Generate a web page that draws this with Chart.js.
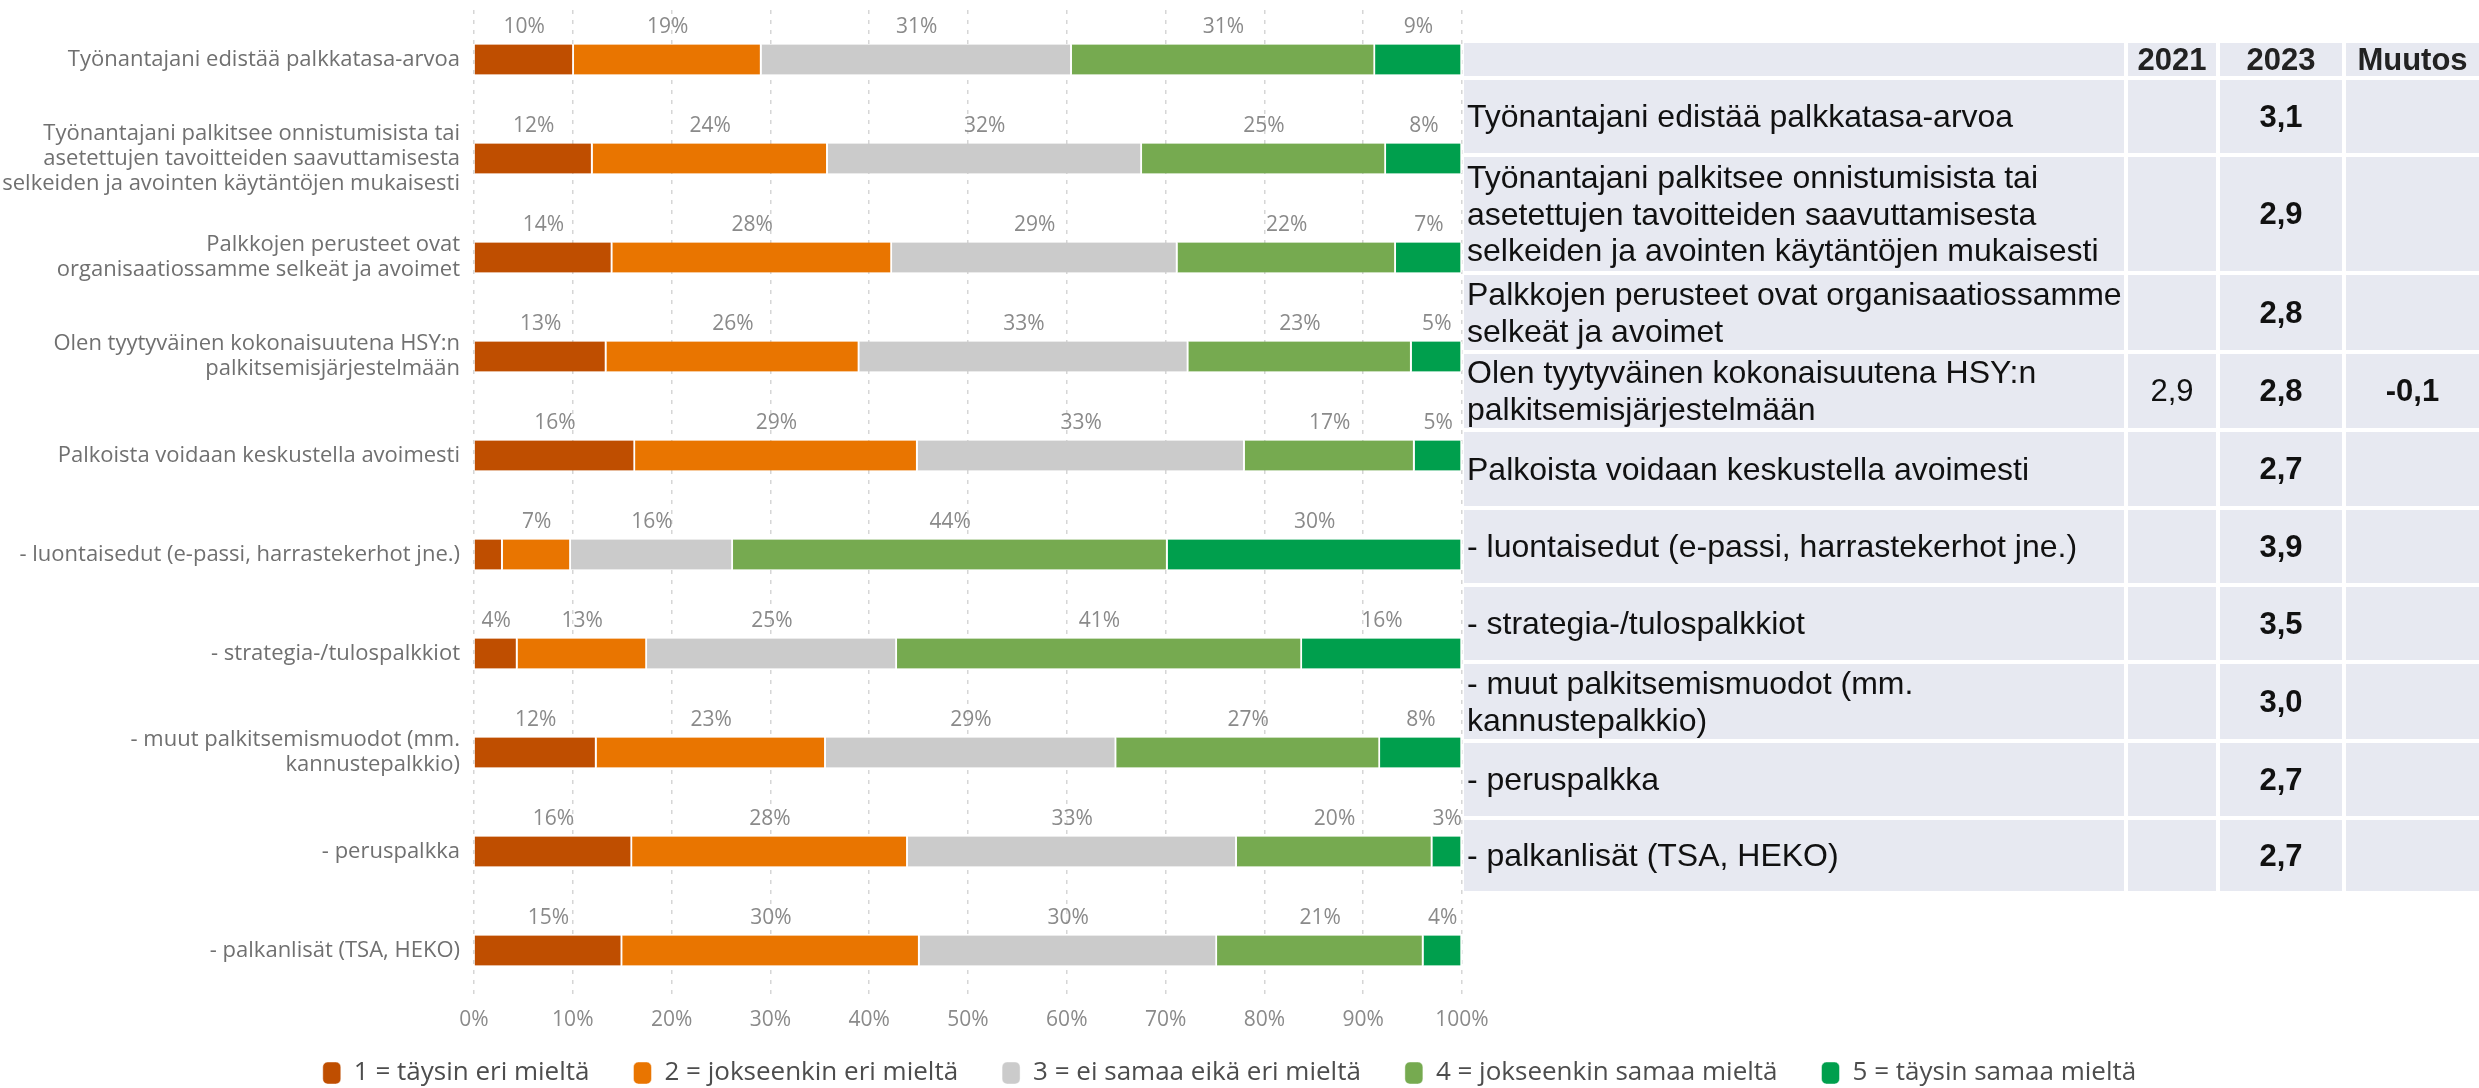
<!DOCTYPE html>
<html lang="fi">
<head>
<meta charset="utf-8">
<title>Palkitseminen</title>
<script src="https://cdn.jsdelivr.net/npm/chart.js@4.4.1/dist/chart.umd.min.js"></script>
<style>
  html, body { margin: 0; padding: 0; background: #fff; overflow: hidden; }
  #wrap { position: relative; width: 2479px; height: 1088px; }
  #tbl {
    position: absolute; left: 1464px; top: 43px;
    display: grid;
    grid-template-columns: 660px 88px 122px 133px;
    grid-template-rows: 33px 73px 114px 75px 74px 74px 73px 73px 75px 73px 71px;
    gap: 4px;
    font-family: "Liberation Sans", Arial, sans-serif;
    color: #111;
  }
  #tbl div {
    background: #e7e9f1;
    display: flex; align-items: center; justify-content: center;
    font-size: 31px; line-height: 1.15;
    white-space: nowrap;
  }
  #tbl div.lbl { justify-content: flex-start; padding-left: 3px; font-size: 32px; }
  #tbl div.hd { font-weight: bold; color: #222; }
  #tbl div.b { font-weight: bold; }
</style>
</head>
<body>
<div id="wrap">
  <canvas id="chart" width="2479" height="1088"></canvas>
  <div id="tbl"></div>
</div>
<script>
// kysymykset (y-akseli)
const categories = [
  "Työnantajani edistää palkkatasa-arvoa",
  ["Työnantajani palkitsee onnistumisista tai", "asetettujen tavoitteiden saavuttamisesta", "selkeiden ja avointen käytäntöjen mukaisesti"],
  ["Palkkojen perusteet ovat", "organisaatiossamme selkeät ja avoimet"],
  ["Olen tyytyväinen kokonaisuutena HSY:n", "palkitsemisjärjestelmään"],
  "Palkoista voidaan keskustella avoimesti",
  "- luontaisedut (e-passi, harrastekerhot jne.)",
  "- strategia-/tulospalkkiot",
  ["- muut palkitsemismuodot (mm.", "kannustepalkkio)"],
  "- peruspalkka",
  "- palkanlisät (TSA, HEKO)"
];

const seriesNames = [
  "1 = täysin eri mieltä",
  "2 = jokseenkin eri mieltä",
  "3 = ei samaa eikä eri mieltä",
  "4 = jokseenkin samaa mieltä",
  "5 = täysin samaa mieltä"
];

// osuudet %
const s1 = [10.1, 12.0, 14.0, 13.4, 16.3, 2.9, 4.4, 12.4, 16.0, 15.0];
const s2 = [19.0, 23.8, 28.3, 25.6, 28.6, 6.9, 13.1, 23.2, 27.9, 30.1];
const s3 = [31.4, 31.8, 28.9, 33.3, 33.1, 16.4, 25.3, 29.4, 33.3, 30.1];
const s4 = [30.7, 24.7, 22.1, 22.6, 17.2, 44.0, 41.0, 26.7, 19.8, 20.9];
const s5 = [8.8, 7.7, 6.7, 5.1, 4.8, 29.8, 16.2, 8.3, 3.0, 3.9];

const colors = ["#bf4e00", "#e97500", "#cbcbcb", "#76aa50", "#009f4d"];

const xTicks = [0, 10, 20, 30, 40, 50, 60, 70, 80, 90, 100];

// taulukko oikealla
const tableHeader = ["", "2021", "2023", "Muutos"];
const tableLabels = [
  "Työnantajani edistää palkkatasa-arvoa",
  "Työnantajani palkitsee onnistumisista tai<br>asetettujen tavoitteiden saavuttamisesta<br>selkeiden ja avointen käytäntöjen mukaisesti",
  "Palkkojen perusteet ovat organisaatiossamme<br>selkeät ja avoimet",
  "Olen tyytyväinen kokonaisuutena HSY:n<br>palkitsemisjärjestelmään",
  "Palkoista voidaan keskustella avoimesti",
  "- luontaisedut (e-passi, harrastekerhot jne.)",
  "- strategia-/tulospalkkiot",
  "- muut palkitsemismuodot (mm.<br>kannustepalkkio)",
  "- peruspalkka",
  "- palkanlisät (TSA, HEKO)"
];
const values2021 = ["", "", "", "2,9", "", "", "", "", "", ""];
const values2023 = ["3,1", "2,9", "2,8", "2,8", "2,7", "3,9", "3,5", "3,0", "2,7", "2,7"];
const change = ["", "", "", "-0,1", "", "", "", "", "", ""];

// build table
const tbl = document.getElementById("tbl");
let html = "";
tableHeader.forEach((h) => {
  html += `<div class="hd">${h}</div>`;
});
tableLabels.forEach((l, i) => {
  html += `<div class="lbl">${l}</div>`;
  html += `<div>${values2021[i]}</div>`;
  html += `<div class="b">${values2023[i]}</div>`;
  html += `<div class="b">${change[i]}</div>`;
});
tbl.innerHTML = html;

// prosenttiluvut palkkien yläpuolelle
const valueLabels = {
  id: "valueLabels",
  afterDatasetsDraw(chart) {
    const ctx = chart.ctx;
    ctx.save();
    ctx.font = "21px 'Open Sans'";
    ctx.fillStyle = "#8a8a8a";
    ctx.textAlign = "center";
    ctx.textBaseline = "middle";
    chart.data.datasets.forEach((ds, di) => {
      const meta = chart.getDatasetMeta(di);
      meta.data.forEach((bar, i) => {
        const v = ds.data[i];
        if (v < 3) return;
        const cx = (bar.x + bar.base) / 2;
        ctx.fillText(Math.round(v) + "%", cx, bar.y - 32);
      });
    });
    ctx.restore();
  }
};

// legenda hieman ylemmäs (x-akselin alle)
const legendShift = {
  id: "legendShift",
  afterLayout(chart) {
    chart.legend.top -= 17;
    chart.legend.bottom -= 17;
  }
};

const allSeries = [s1, s2, s3, s4, s5];

new Chart(document.getElementById("chart"), {
  type: "bar",
  data: {
    labels: categories,
    datasets: allSeries.map((s, i) => ({
      label: seriesNames[i],
      data: s,
      backgroundColor: colors[i],
      borderColor: "rgba(255,255,255,0.9)",
      borderWidth: { right: 2 },
      borderSkipped: false,
      barThickness: 30
    }))
  },
  options: {
    indexAxis: "y",
    responsive: false,
    animation: false,
    layout: { padding: { top: 10, right: 20, bottom: -25 } },
    scales: {
      x: {
        stacked: true,
        min: 0,
        max: 100,
        afterBuildTicks: (s) => {
          s.ticks = xTicks.map((v) => ({ value: v }));
        },
        afterFit: (s) => {
          s.height = 33;
        },
        ticks: {
          callback: (v) => v + "%",
          color: "#8a8a8a",
          font: { family: "Open Sans", size: 21 },
          padding: 7
        },
        grid: { color: "#d6d6d6", lineWidth: 1.5, drawTicks: false },
        border: { display: false, dash: [4, 6] }
      },
      y: {
        stacked: true,
        afterFit: (s) => {
          s.width = 474;
          s.paddingTop = 0;
          s.paddingBottom = 0;
        },
        ticks: {
          color: "#707070",
          font: { family: "Open Sans", size: 22, lineHeight: 1.14 },
          padding: 14
        },
        grid: { display: false, drawTicks: false },
        border: { display: false }
      },
      // tyhjä akseli taulukon tilaa varten
      yRight: {
        axis: "y",
        type: "linear",
        position: "right",
        afterFit: (s) => {
          s.width = 997;
          s.paddingTop = 0;
          s.paddingBottom = 0;
        },
        ticks: { display: false },
        grid: { display: false, drawTicks: false },
        border: { display: false }
      }
    },
    plugins: {
      legend: {
        position: "bottom",
        labels: {
          boxWidth: 18,
          boxHeight: 22,
          useBorderRadius: true,
          borderRadius: 5,
          padding: 44,
          color: "#4d4d4d",
          font: { family: "Open Sans", size: 26 }
        }
      },
      tooltip: { enabled: false }
    }
  },
  plugins: [valueLabels, legendShift]
});
</script>
</body>
</html>
